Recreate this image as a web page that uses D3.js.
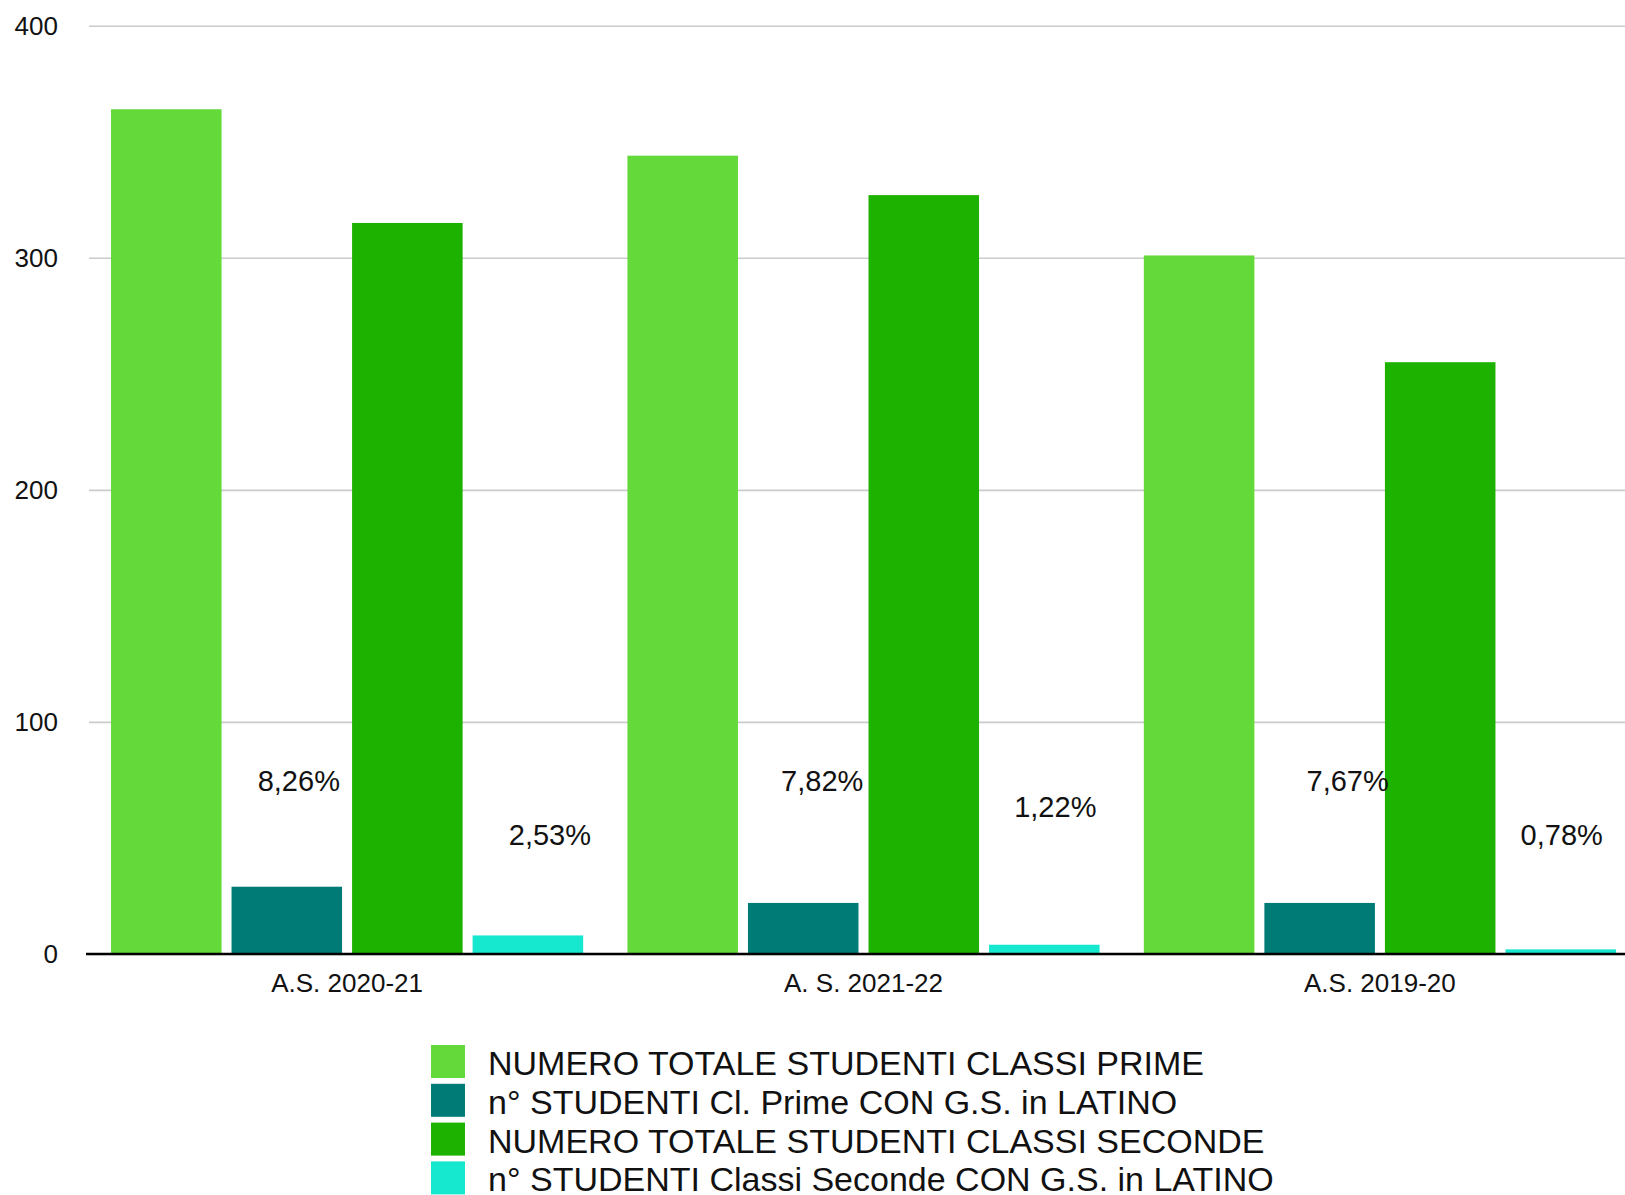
<!DOCTYPE html>
<html>
<head>
<meta charset="utf-8">
<script src="https://cdn.jsdelivr.net/npm/d3@7"></script>
<style>
  body { margin: 0; background: #fff; }
  text { font-family: "Liberation Sans", Arial, Helvetica, sans-serif; fill: #111; }
</style>
</head>
<body>
<script>
// data
const categories = ["A.S. 2020-21", "A. S. 2021-22", "A.S. 2019-20"]
const seriesNames = [
  "NUMERO TOTALE STUDENTI CLASSI PRIME",
  "n° STUDENTI Cl. Prime CON G.S. in LATINO",
  "NUMERO TOTALE STUDENTI CLASSI SECONDE",
  "n° STUDENTI Classi Seconde CON G.S. in LATINO"
]
const totPrime = [364, 344, 301]
const gsPrime = [29, 22, 22]
const totSeconde = [315, 327, 255]
const gsSeconde = [8, 4, 2]
const pctPrime = ["8,26%", "7,82%", "7,67%"]
const pctSeconde = ["2,53%", "1,22%", "0,78%"]
const yTicks = [0, 100, 200, 300, 400]

const colors = ["#63d93a", "#017b76", "#1db100", "#16e7cf"]
const seriesValues = [totPrime, gsPrime, totSeconde, gsSeconde]

const width = 1625, height = 1195

const svg = d3.select("body")
    .append("svg")
    .attr("width", width)
    .attr("height", height)
    .attr("viewBox", `0 0 ${width} ${height}`)

const x0 = d3.scaleBand()
    .domain(categories)
    .range([89, 1638])
    .paddingInner(0.0857)
    .paddingOuter(0.0426)

const x1 = d3.scaleBand()
    .domain(d3.range(seriesNames.length))
    .range([0, x0.bandwidth()])
    .paddingInner(0.083)

const y = d3.scaleLinear().domain([0, 400]).range([954, 25.7])

// gridlines + tick labels
const yAxis = svg.append("g")
    .attr("transform", "translate(89,0)")
    .call(d3.axisLeft(y).tickValues(yTicks).tickSizeInner(-(width - 89)).tickSizeOuter(0).tickPadding(31))
yAxis.select(".domain").remove()
yAxis.selectAll(".tick line").attr("stroke", "#cbcbcb").attr("stroke-width", 1.6)
yAxis.selectAll(".tick text")
    .attr("font-size", 26)
    .attr("font-family", "Liberation Sans, Arial, sans-serif")
    .attr("fill", "#111")

// bars
const rows = categories.map((c, i) => ({cat: c, vals: seriesValues.map(s => s[i])}))

svg.append("g").selectAll("g")
    .data(rows)
    .join("g")
    .attr("transform", d => `translate(${x0(d.cat)},0)`)
    .selectAll("rect")
    .data(d => d.vals.map((v, k) => ({k, v})))
    .join("rect")
    .attr("x", d => x1(d.k))
    .attr("width", x1.bandwidth())
    .attr("y", d => y(d.v))
    .attr("height", d => y(0) - y(d.v))
    .attr("fill", d => colors[d.k])

// zero line
svg.append("line")
    .attr("x1", 86).attr("x2", width)
    .attr("y1", y(0)).attr("y2", y(0))
    .attr("stroke", "#000").attr("stroke-width", 2.4)

// category labels
svg.append("g").selectAll("text")
    .data(categories)
    .join("text")
    .attr("x", d => x0(d) + x0.bandwidth() / 2)
    .attr("y", y(0) + 38)
    .attr("text-anchor", "middle")
    .attr("font-size", 26)
    .text(d => d)

// percentage notes, hand placed near the small bars in the original
const notePrime = [[12, 70.2], [19, 70.2], [28, 70.2]]
const noteSeconde = [[22, 47], [11, 59], [1, 47]]

function notes(texts, k, nudge) {
  svg.append("g").selectAll("text")
      .data(texts)
      .join("text")
      .attr("x", (d, i) => x0(categories[i]) + x1(k) + x1.bandwidth() / 2 + nudge[i][0])
      .attr("y", (d, i) => y(nudge[i][1]))
      .attr("text-anchor", "middle")
      .attr("font-size", 29)
      .text(d => d)
}
notes(pctPrime, 1, notePrime)
notes(pctSeconde, 3, noteSeconde)

// legend
const legend = svg.append("g").attr("transform", "translate(431,1045)")
const item = legend.selectAll("g")
    .data(seriesNames)
    .join("g")
    .attr("transform", (d, i) => `translate(0,${i * 38.8})`)
item.append("rect")
    .attr("width", 34).attr("height", 33)
    .attr("fill", (d, i) => colors[i])
item.append("text")
    .attr("x", 57).attr("y", 30)
    .attr("font-size", 34)
    .text(d => d)
</script>
</body>
</html>
